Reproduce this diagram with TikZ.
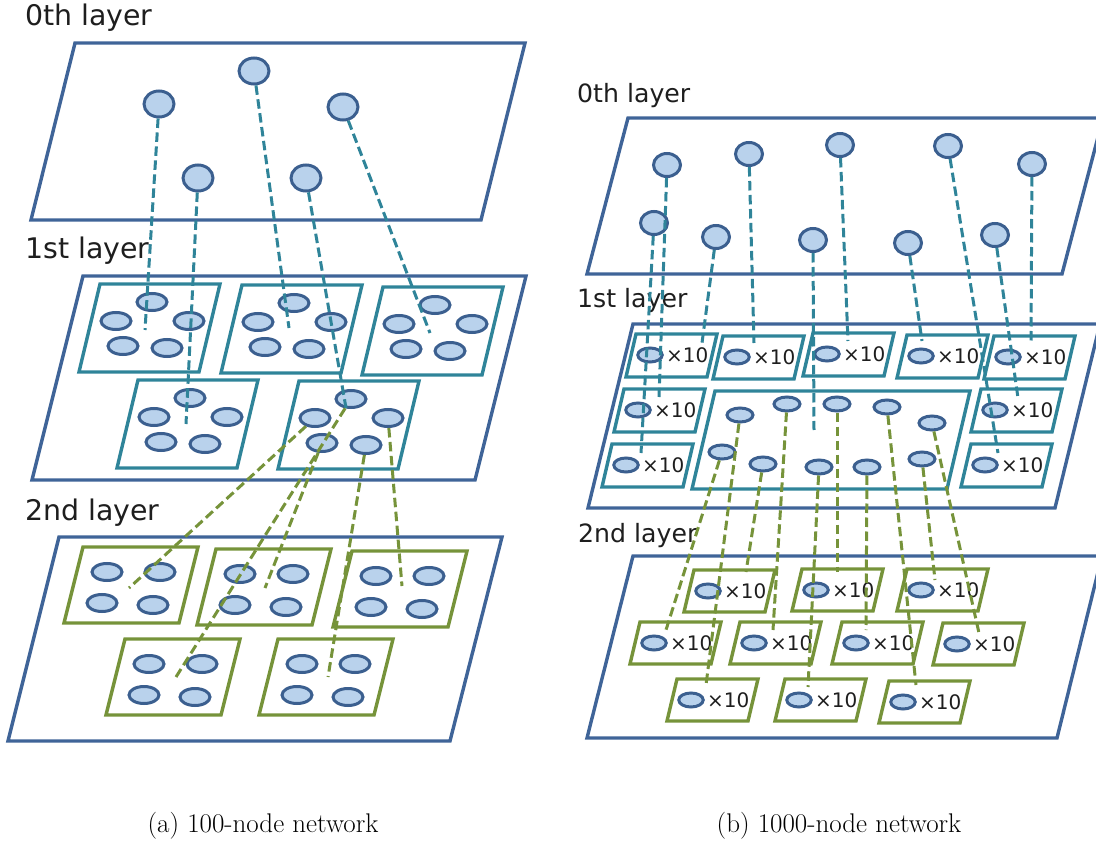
\documentclass[tikz,border=0pt]{standalone}
\usepackage{fontspec}
\newfontfamily\labelfont{DejaVu Sans}
\usetikzlibrary{shapes.geometric}

\definecolor{planeblue}{HTML}{3F6498}
\definecolor{nodeline}{HTML}{3B5F8F}
\definecolor{nodefill}{HTML}{B9D2EC}
\definecolor{tealc}{HTML}{2F8499}
\definecolor{greenc}{HTML}{76933A}
\definecolor{textc}{HTML}{1E1E1E}

\tikzset{
  plane/.style={draw=planeblue, line width=3.4pt},
  tealbox/.style={draw=tealc, line width=3.4pt},
  greenbox/.style={draw=greenc, line width=3.4pt},
  nd/.style={ellipse, draw=nodeline, fill=nodefill, line width=3pt, inner sep=0pt},
  ndA/.style={nd, minimum width=30pt, minimum height=26pt},
  ndS/.style={nd, minimum width=30pt, minimum height=17pt},
  ndB/.style={nd, minimum width=27pt, minimum height=23pt},
  ndT/.style={nd, minimum width=24.5pt, minimum height=14pt},
  ndM/.style={nd, minimum width=26pt, minimum height=14pt},
  tealdash/.style={draw=tealc, line width=3pt, dash pattern=on 9.5pt off 4.5pt},
  greendash/.style={draw=greenc, line width=3pt, dash pattern=on 9.5pt off 4.5pt},
  layerA/.style={font=\labelfont\fontsize{28.4}{34}\selectfont, text=textc, anchor=base west, inner sep=0pt},
  layerB/.style={font=\labelfont\fontsize{25.2}{30}\selectfont, text=textc, anchor=base west, inner sep=0pt},
  times/.style={font=\labelfont\fontsize{20}{24}\selectfont, text=textc, anchor=west, inner sep=0pt},
  subcap/.style={font=\fontsize{27}{32}\selectfont, anchor=base, inner sep=0pt},
}

% slanted box: style, top-left x, top-left y, width, height, slant
\newcommand\slantbox[6]{%
  \draw[#1] (#2,#3) -- ++(#4,0) -- ++(-#6,#5) -- ++(-#4,0) -- cycle;}

\begin{document}
\begin{tikzpicture}[x=1pt,y=-1pt]
\useasboundingbox (0,0) rectangle (1096,845);

% ================= (a) 100-node network =================
\node[layerA] (la0) at (25,26) {0th layer};
\node[layerA] (la1) at (25,259) {1st layer};
\node[layerA] (la2) at (25,520) {2nd layer};

\draw[plane] (75,43) -- (525,43) -- (481,220) -- (31,220) -- cycle;
\draw[plane] (83,276) -- (526,276) -- (475,480) -- (32,480) -- cycle;
\draw[plane] (59,537) -- (502,537) -- (450,741) -- (8,741) -- cycle;

% layer 0 nodes
\node[ndA] (a0n1) at (254,71) {};
\node[ndA] (a0n2) at (159,104) {};
\node[ndA] (a0n3) at (343,107) {};
\node[ndA] (a0n4) at (198,178) {};
\node[ndA] (a0n5) at (306,178) {};

% layer 1 clusters of five
\foreach \k/\bx/\by in {1/100/284, 2/242/285, 3/383/287, 4/138/380, 5/299/381} {
  \slantbox{tealbox}{\bx}{\by}{120}{88}{21}
  \foreach \j/\ox/\oy in {1/52/18, 2/16/37, 3/89/37, 4/23/62, 5/67/64}
    \node[ndS] (a1b\k-\j) at (\bx+\ox,\by+\oy) {};
}

% layer 2 clusters of four
\foreach \k/\bx/\by in {1/83/547, 2/216/549, 3/352/551, 4/125/639, 5/278/639} {
  \slantbox{greenbox}{\bx}{\by}{115}{76}{19}
  \foreach \j/\ox/\oy in {1/24/25, 2/77/25, 3/19/56, 4/70/58}
    \node[ndS] (a2b\k-\j) at (\bx+\ox,\by+\oy) {};
}

% end points of the links
\coordinate (ta1) at (145,330);
\coordinate (ta2) at (186,424);
\coordinate (ta3) at (289,328);
\coordinate (ta4) at (346,408);
\coordinate (ta5) at (430,333);
\coordinate (ga1) at (176,677);
\coordinate (ga2) at (129,588);
\coordinate (ga3) at (402,586);
\coordinate (ga4) at (265,588);
\coordinate (ga5) at (328,677);

\draw[tealdash] (a0n2) -- (ta1);
\draw[tealdash] (a0n4) -- (ta2);
\draw[tealdash] (a0n1) -- (ta3);
\draw[tealdash] (a0n5) -- (ta4);
\draw[tealdash] (a0n3) -- (ta5);

\draw[greendash] (a1b5-1) -- (ga1);
\draw[greendash] (a1b5-2) -- (ga2);
\draw[greendash] (a1b5-3) -- (ga3);
\draw[greendash] (a1b5-4) -- (ga4);
\draw[greendash] (a1b5-5) -- (ga5);

\node[subcap] (capa) at (263,832) {(a) 100-node network};

% ================= (b) 1000-node network =================
\node[layerB] (lb0) at (577,103) {0th layer};
\node[layerB] (lb1) at (577,308) {1st layer};
\node[layerB] (lb2) at (578,542) {2nd layer};

\draw[plane] (628,118) -- (1103,118) -- (1062,274) -- (587,274) -- cycle;
\draw[plane] (633,324) -- (1100,324) -- (1055,508) -- (588,508) -- cycle;
\draw[plane] (633,556) -- (1102,556) -- (1057,738) -- (587,738) -- cycle;

% layer 0 nodes
\node[ndB] (b0n1) at (667,165) {};
\node[ndB] (b0n2) at (749,154) {};
\node[ndB] (b0n3) at (840,145) {};
\node[ndB] (b0n4) at (948,146) {};
\node[ndB] (b0n5) at (1032,164) {};
\node[ndB] (b0n6) at (654,223) {};
\node[ndB] (b0n7) at (716,237) {};
\node[ndB] (b0n8) at (813,240) {};
\node[ndB] (b0n9) at (908,243) {};
\node[ndB] (b0n10) at (995,235) {};

% layer 1 groups of ten
\foreach \k/\bx/\by in {1/636/334, 2/723/336, 3/813/333, 4/907/335, 5/994/336,
                        6/624/389, 7/981/389, 8/612/444, 9/971/444} {
  \slantbox{tealbox}{\bx}{\by}{81}{43}{10}
  \node[ndT] (b1s\k) at (\bx+14,\by+21) {};
  \node[times] (b1x\k) at (\bx+30,\by+21) {×10};
}

% layer 1 central cluster
\slantbox{tealbox}{715}{391}{255}{98}{23}
\node[ndM] (bb1) at (740,415) {};
\node[ndM] (bb2) at (787,404) {};
\node[ndM] (bb3) at (837,404) {};
\node[ndM] (bb4) at (887,407) {};
\node[ndM] (bb5) at (932,423) {};
\node[ndM] (bb6) at (722,452) {};
\node[ndM] (bb7) at (763,464) {};
\node[ndM] (bb8) at (819,467) {};
\node[ndM] (bb9) at (867,467) {};
\node[ndM] (bb10) at (922,459) {};

% layer 2 groups of ten
\foreach \k/\bx/\by in {1/694/570, 2/802/569, 3/907/569, 4/640/622, 5/740/622,
                        6/842/622, 7/943/623, 8/677/679, 9/785/679, 10/889/681} {
  \slantbox{greenbox}{\bx}{\by}{81}{42}{10}
  \node[ndT] (b2s\k) at (\bx+14,\by+21) {};
  \node[times] (b2x\k) at (\bx+30,\by+21) {×10};
}

% end points of the links
\coordinate (tb1) at (659,397);
\coordinate (tb2) at (754,343);
\coordinate (tb3) at (848,341);
\coordinate (tb4) at (998,453);
\coordinate (tb5) at (1031,341);
\coordinate (tb6) at (641,453);
\coordinate (tb7) at (702,343);
\coordinate (tb8) at (814,430);
\coordinate (tb9) at (922,341);
\coordinate (tb10) at (1018,398);

\coordinate (gb1) at (706,685);
\coordinate (gb2) at (773,630);
\coordinate (gb3) at (837,572);
\coordinate (gb4) at (916,685);
\coordinate (gb5) at (979,633);
\coordinate (gb6) at (666,630);
\coordinate (gb7) at (746,572);
\coordinate (gb8) at (808,687);
\coordinate (gb9) at (866,630);
\coordinate (gb10) at (935,580);

\foreach \i in {1,...,10} {
  \draw[tealdash] (b0n\i) -- (tb\i);
  \draw[greendash] (bb\i) -- (gb\i);
}

\node[subcap] (capb) at (839,832) {(b) 1000-node network};
\end{tikzpicture}
\end{document}
